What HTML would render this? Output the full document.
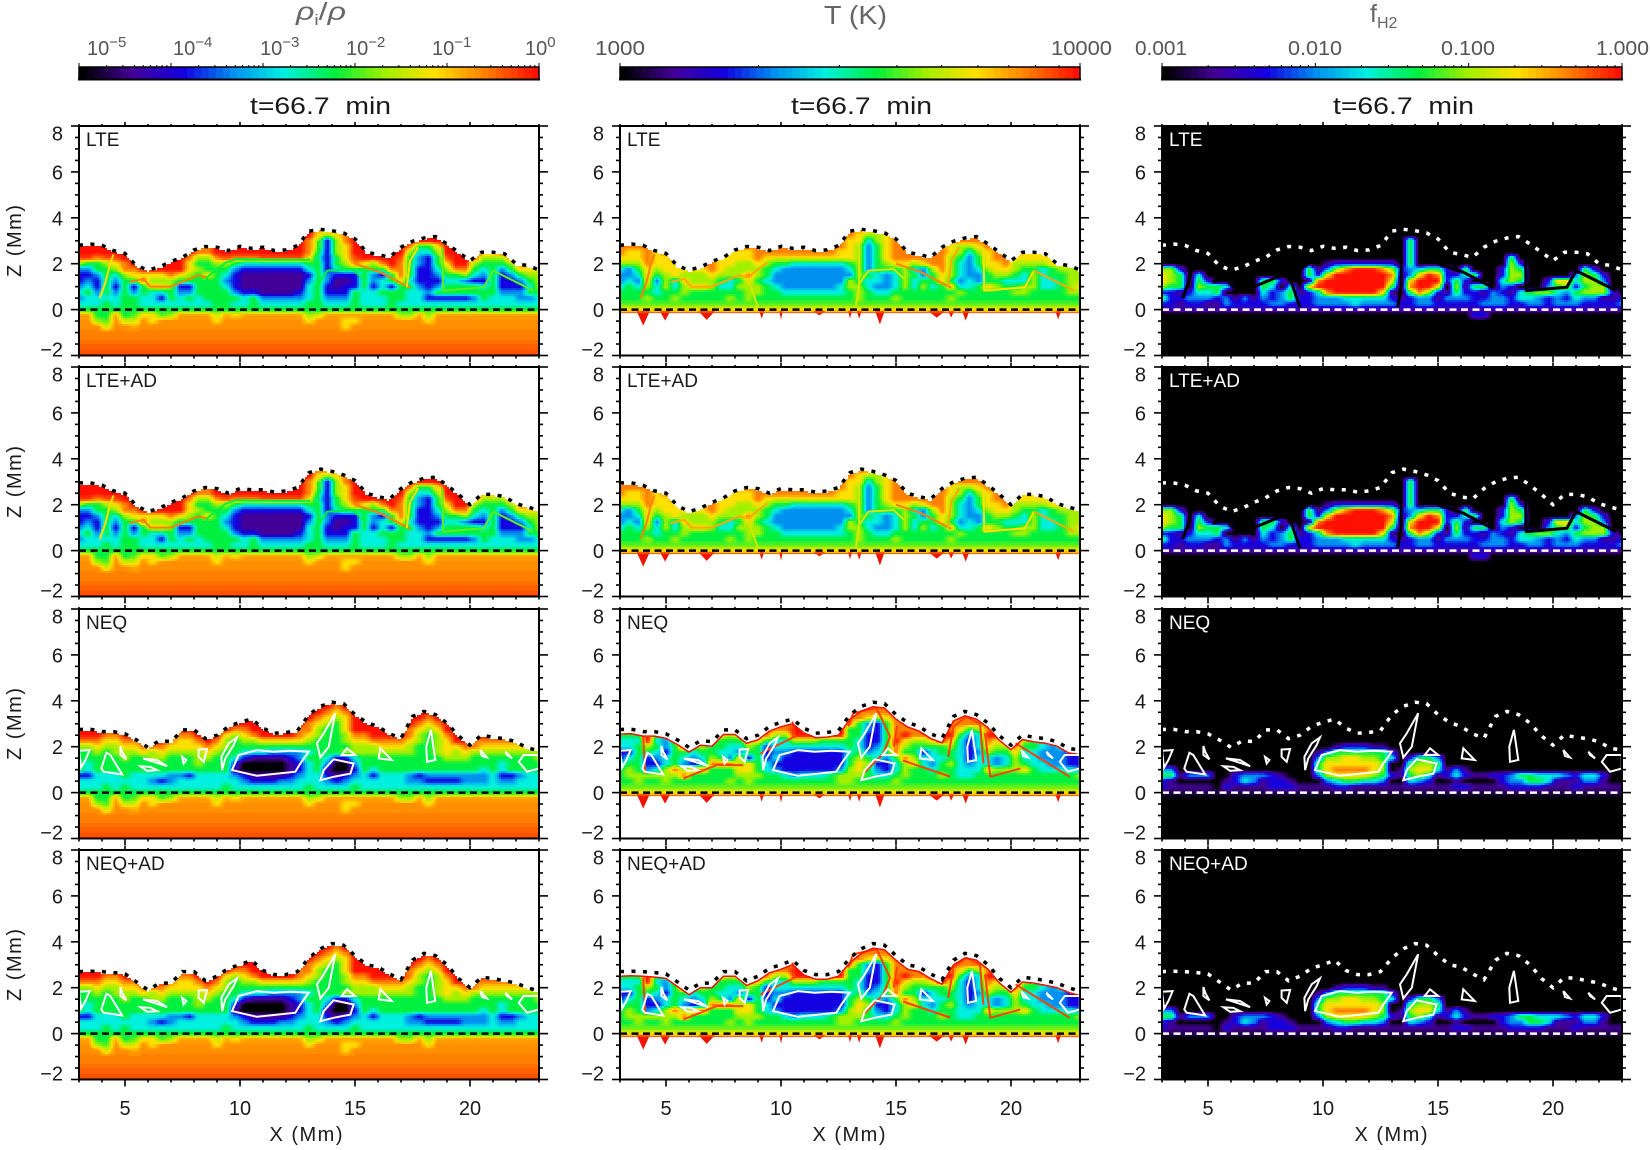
<!DOCTYPE html>
<html lang="en">
<head>
<meta charset="utf-8">
<title>Ionization, temperature and H2 fraction panels</title>
<style>
html,body{margin:0;padding:0;background:#fff}
svg{display:block}
text{font-family:"Liberation Sans",sans-serif;fill:#1a1a1a}
.thin{fill:#555}
.title{fill:#666}
</style>
</head>
<body>
<svg id="figure" xmlns="http://www.w3.org/2000/svg" width="1650" height="1150" viewBox="0 0 1650 1150">
<g id="plots"></g>
<g id="bars"></g>
<g>
<text class="title" x="296" y="20" font-size="25" font-style="italic" textLength="50" lengthAdjust="spacingAndGlyphs">ρ<tspan font-size="15" dy="5" font-style="normal">i</tspan><tspan dy="-5" font-style="normal">/</tspan>ρ</text>
<text class="title" x="824" y="24" font-size="26" textLength="63" lengthAdjust="spacingAndGlyphs">T (K)</text>
<text class="title" x="1370" y="22" font-size="25">f<tspan font-size="16" dy="6">H2</tspan></text>
</g>
<g>
<text class="thin" x="87" y="55" font-size="20">10<tspan font-size="15" dy="-8">−5</tspan></text>
<text class="thin" x="173" y="55" font-size="20">10<tspan font-size="15" dy="-8">−4</tspan></text>
<text class="thin" x="260" y="55" font-size="20">10<tspan font-size="15" dy="-8">−3</tspan></text>
<text class="thin" x="346" y="55" font-size="20">10<tspan font-size="15" dy="-8">−2</tspan></text>
<text class="thin" x="432" y="55" font-size="20">10<tspan font-size="15" dy="-8">−1</tspan></text>
<text class="thin" x="525" y="55" font-size="20">10<tspan font-size="15" dy="-8">0</tspan></text>
<text class="thin" x="595" y="55" font-size="20" textLength="50" lengthAdjust="spacingAndGlyphs">1000</text>
<text class="thin" x="1051" y="55" font-size="20" textLength="61" lengthAdjust="spacingAndGlyphs">10000</text>
<text class="thin" x="1135" y="55" font-size="20" textLength="52" lengthAdjust="spacingAndGlyphs">0.001</text>
<text class="thin" x="1288" y="55" font-size="20" textLength="54" lengthAdjust="spacingAndGlyphs">0.010</text>
<text class="thin" x="1441" y="55" font-size="20" textLength="54" lengthAdjust="spacingAndGlyphs">0.100</text>
<text class="thin" x="1596" y="55" font-size="20" textLength="53" lengthAdjust="spacingAndGlyphs">1.000</text>
</g>
<g>
<text x="250" y="114" font-size="24" textLength="141" lengthAdjust="spacingAndGlyphs">t=66.7&#160;&#160;min</text>
<text x="791" y="114" font-size="24" textLength="141" lengthAdjust="spacingAndGlyphs">t=66.7&#160;&#160;min</text>
<text x="1333" y="114" font-size="24" textLength="141" lengthAdjust="spacingAndGlyphs">t=66.7&#160;&#160;min</text>
</g>
<g>
<text transform="translate(21,241) rotate(-90)" text-anchor="middle" font-size="20" textLength="72">Z (Mm)</text>
<text transform="translate(21,482) rotate(-90)" text-anchor="middle" font-size="20" textLength="72">Z (Mm)</text>
<text transform="translate(21,724) rotate(-90)" text-anchor="middle" font-size="20" textLength="72">Z (Mm)</text>
<text transform="translate(21,965) rotate(-90)" text-anchor="middle" font-size="20" textLength="72">Z (Mm)</text>
<text x="306" y="1141" text-anchor="middle" font-size="20" textLength="73">X (Mm)</text>
<text x="849" y="1141" text-anchor="middle" font-size="20" textLength="73">X (Mm)</text>
<text x="1391" y="1141" text-anchor="middle" font-size="20" textLength="73">X (Mm)</text>
</g>
</svg>
<script>
// ---- axis data ----
const xTicksMajor = [5, 10, 15, 20];
const xTicksMinor = [3,4,6,7,8,9,11,12,13,14,16,17,18,19,21,22,23];
const zTicksMajor = [-2, 0, 2, 4, 6, 8];
const zTicksMinor = [-1.5,-1,-0.5,0.5,1,1.5,2.5,3,3.5,4.5,5,5.5,6.5,7,7.5];
const zTickLabels = ["−2", "0", "2", "4", "6", "8"];
const xTickLabels = ["5", "10", "15", "20"];
const modelNames = ["LTE", "LTE+AD", "NEQ", "NEQ+AD"];

// ---- atmosphere top height (Mm), one value per 0.5 Mm from X=3 to X=23 ----
const surfaceLte = [2.8,2.86,2.8,2.57,2.45,1.9,1.73,1.85,2.1,2.28,2.6,2.75,2.72,2.57,2.76,2.67,2.72,2.57,2.6,2.79,3.42,3.5,3.44,3.34,3.08,2.5,2.4,2.28,2.72,2.98,3.12,3.18,2.86,2.5,2.13,2.5,2.5,2.43,2.0,1.92,1.73];
const surfaceLteAd = [2.95,2.95,2.85,2.6,2.5,1.95,1.7,1.85,2.1,2.3,2.6,2.75,2.7,2.5,2.7,2.65,2.65,2.55,2.6,2.75,3.4,3.55,3.45,3.3,3.05,2.5,2.35,2.25,2.7,3.0,3.15,3.2,2.85,2.45,2.0,2.45,2.45,2.35,2.05,1.9,1.75];
const surfaceNeq = [2.75,2.76,2.66,2.66,2.56,2.29,1.97,2.26,2.22,2.73,2.73,2.35,2.5,2.88,3.07,3.2,2.8,2.59,2.62,2.7,3.4,3.76,3.94,3.88,3.4,3.06,2.88,2.56,2.37,3.32,3.54,3.4,3.03,2.47,2.07,2.51,2.41,2.35,2.22,1.93,1.85];
const surfaceNeqAd = [2.7,2.72,2.7,2.66,2.6,2.25,1.9,2.2,2.2,2.7,2.7,2.3,2.5,2.85,3.0,3.2,2.75,2.57,2.57,2.7,3.3,3.7,3.92,3.85,3.4,3.0,2.9,2.6,2.35,3.2,3.5,3.4,3.0,2.4,2.0,2.45,2.4,2.3,2.2,2.0,1.85];

// ---- heatmap colour levels (0 black .. 9 red).
// Columns run X = 3, 3.4, 3.8 ...; rows run down the z levels below.
// A row shorter than the grid keeps its last value to the right edge.
const zLevels = [3.75,3.5,3.25,3,2.75,2.5,2.25,2,1.75,1.5,1.25,1,0.75,0.5,0.25,0,-0.25,-0.5,-0.75,-1,-1.25,-1.5,-1.75,-2];

const rhoLowerRows = [
[7.6,7.6,5,5,7.6,5,5.5,7,7,5.5,6,7.6,7.6,7.6,7.6,6.5,7.6,7,7.6,7.6,7.6,7.6,7.6,7.6,7.6,6,6.5,7.6,7.6,7.6,7.6,7.6,7.6,7.6,7.6,6,6,7.6,6,7.6,7.6],
[7.8,7.8,6,5.5,7.8,6.5,6.5,7.8,7,7.8,7.8,7.8,7.8,7.8,7.8,7,7.8,7.8,7.8,7.8,7.8,7.8,7.8,7.8,7.8,7,7.8,7.8,7.8,7,7,7.8,7.8,7.8,7.8,7.8,7.8,7.8,7,7.8],
[7.9,7.9,7.9,6.5,7.9,7.9,7.5,7.9,7.9,7.9,7.9,7.9,7.9,7.9,7.9,7.9,7.9,7.9,7.9,7.9,7.9,7.9,7.9,7.9,7.9,7.9,7.9,7.9,7.9,7,7.9],
[7.95],[8.05],[8.2],[8.35],[8.55]
];

const rhoLte = [
[9],
[9,9,9,9,9,9,9,9,9,9,9,9,9,9,9,9,9,9,9,9,9,9,9,9,9,9,8,8,8,9],
[9,9,9,9,9,9,9,9,9,9,9,9,9,9,9,9,9,9,9,9,9,9,9,9,9,9,7,6,7,8,9],
[9,9,9,9,9,9,9,9,9,9,9,9,9,9,9,9,9,9,9,9,9,9,9,9,9,8,6,2,6,8,9],
[9,9,9,9,9,9,9,9,9,9,9,9,9,8,8,9,9,9,9,9,9,9,9,9,9,8,6,2,6,7,9,9,9,9,9,9,8,5,5,7,9],
[9,9,9,9,9,9,9,9,9,9,9,9,9,8,8,9,9,9,9,9,9,9,9,9,9,8,5,2,6,7,9,9,9,9,9,9,6,4,4,6,9,9,9,9,8,8,9],
[8.7,8.7,8,8.5,8.5,9,9,9,9,9,9,9,8,6,6,8,8.5,8,8,8,8.5,8.5,8.5,8.5,8.5,7,4,2,5,7,8.5,9,9,9,9,8.5,5,3,2,5,8.5,9,9,8.5,6,6,6,8.5,9],
[6,5,5,6,7,8,9,9,9,9,9,9,7,5,5,6,6,5,4,4,4,4,4,4,4,5,5,2,5,6,8,7,6,8,9,8,5,3,2,5,7,9,9,6,5,5,5,6,8,8,9],
[3,3,5,5,6,8,8,9,9,9,9,9,7,6,5,5,5,3,2,2,2,2,2,2,2,4,5,2,4,5,5,5,5,5,8,8,5,2,2,4,6,8,8,5,4,5,3,5,7,7,7],
[2,2,3,5,4,6,7,7,7,7,8,7,6,5,7,5,4,2,1,1,1,1,1,1,1,2,5,3,2,2,2,5,3,2,5,8,5,2,2,3,5,5,6,4,3,5,2,3,5,6,6],
[2,3,2,5,3,5,5,8,6,6,6,5,5,5,5,5,3,2,1,1,1,1,1,1,1,3,5,3,1,1,2,5,3,4,5,7,4,2,2,2,4,4,3,2,2,5,2,2,3,5,6],
[3,4,2,5,2,5,2,5,7,7,6,2,2,5,5,5,4,2,1,1,1,1,1,1,1,4,5,2,1,2,2,5,2,4,2,5,5,3,2,3,5,5,5,5,4,5,2,2,2,4,6],
[4,5,3,5,3,5,3,5,4,4,5,3,3,5,5,5,5,3,2,2,1,1,1,1,2,4,5,2,2,2,5,4,4,5,5,5,4,4,3,5,5,5,5,5,5,5,3,3,3,5,5],
[3,4,4,4,4,5,5,4,4,2,5,4,5,4,5,5,5,5,4,5,3,3,3,3,3,4,5,3,3,3,5,4,4,4,5,5,4,4,2,2,2,2,2,3,5,4,4,4,3,3,4],
[4,4,4,5,4,5,5,4,4,4,4,4,4,4,4,5,5,4,4,5,4,4,4,4,4,5,5,4,4,4,5,4,4,4,5,4,4,4,4,4],
[5],
...rhoLowerRows
];

const rhoNeq = [
[9,9,9,9,9,9,9,9,9,9,9,9,9,9,9,9,9,9,9,9,9,9,9,9,9,9,9,9,8,9],
[9,9,9,9,9,9,9,9,9,9,9,9,9,9,9,9,9,9,9,9,9,9,9,9,9,9,9,8,7,8,9],
[9,9,9,9,9,9,9,9,9,9,9,9,9,9,9,9,9,9,9,9,9,9,9,9,9,9,8,7,6,7,9,9,9,9,9,9,9,9,8,9],
[9,9,9,9,9,9,9,9,9,9,9,9,9,9,9,9,9,9,9,9,9,9,9,9,9,8,7,6,5,7,9,9,9,9,9,9,9,8,7,8,9],
[9,9,9,9,9,9,9,9,9,9,9,9,9,9,9,9,9,8,8,9,9,9,9,9,8,8,6,5,5,7,9,9,9,9,9,9,8,7,6,7,9],
[9,9,9,8,8,9,9,9,9,9,9,8,8,9,9,9,7,6,7,8,9,9,9,9,8,7,6,5,5,6,8,8,9,9,9,9,8,6,5,6,8,9],
[8,8,8,7,7,8,8,9,9,9,8,7,7,8,9,8,6,5,6,6,7,7,7,7,7,6,5,5,5,6,7,7,8,8,8,8,7,6,5,6,7,9,9,8,8,8,8,8,8,8,9],
[6,6,7,6,6,7,7,8,8,8,7,7,7,7,8,7,6,5,5,5,5,5,5,5,5,5,5,5,5,5,6,6,6,7,7,7,6,5,5,6,7,7,8,8,7,7,7,7,7,7,7],
[5,5,6,5,6,6,6,7,6,7,6,6,6,6,7,6,5,5,4,4,4,3,3,3,3,4,5,5,5,6,6,6,6,6,6,6,6,5,5,6,7,6,7,6,6,6,6,6,6,6,6],
[5,5,5,5,5,6,5,5,6,6,5,5,5,6,6,5,5,4,2,1,1,1,1,2,3,5,5,4,2,2,4,5,5,5,5,5,5,5,5,5,6,6,6,5,5,5,5,5,5,5,6],
[5,4,5,5,5,5,5,5,5,5,5,5,5,6,5,5,5,2,0,0,0,0,0,1,2,4,5,3,0,0,3,5,5,5,5,5,5,5,5,5,5,5,5,5,5,5,4,5,5,5,5],
[5,4,5,5,5,5,5,5,5,5,5,5,5,5,5,5,5,1,0,0,0,0,0,1,2,4,5,1,0,0,2,5,4,5,5,5,5,5,5,5,5,5,5,5,4,5,4,5,5,5,5],
[2,2,4,4,4,5,4,4,4,4,3,3,2,4,4,4,4,3,2,1,1,1,1,2,3,4,4,2,1,2,3,4,2,4,4,4,3,2,3,3,3,3,3,3,3,4,2,2,3,4,4],
[4,4,4,4,4,4,4,4,3,2,3,4,4,4,4,4,4,4,3,2,2,2,3,3,4,4,4,3,2,3,4,4,4,4,4,4,3,3,2,2,2,2,3,3,3,4,3,3,4,4,4],
[4,4,4,5,4,5,4,4,4,4,4,4,4,4,4,4,5,4,4,4,4,4,4,4,4,5,4,4,4,4,5,4,4,4,4,4,4,4,4,4],
[5],
...rhoLowerRows
];

const tempLte = [
[8],
[8],
[8,8,8,8,8,8,8,8,8,8,8,8,8,8,8,8,8,8,8,8,8,8,8,8,8,8,7,6,6,7,8],
[8,8,8,8,8,8,8,8,8,8,8,8,8,8,8,8,8,8,8,8,8,8,8,8,8,7,7,4,6,7,8],
[8,8,8,8,8,8,8,8,8,8,8,8,8,8,8,8,8,8,8,8,8,8,8,8,8,7,6,3,5,7,8,8,8,8,8,8,7,6,6,7,8],
[8,7,7,8,7,8,8,8,8,8,8,8,7,7,7,8,8,8,8,8,8,8,8,8,7,7,6,3,5,7,8,8,8,8,8,8,7,6,4,6,7,8,8,8,7,7,7,8],
[7,7,7,8,7,7,8,8,8,8,8,7,7,7,7,8,7,7,7,7,7,7,7,7,7,7,6,3,5,7,8,8,8,8,8,8,6,5,3,5,7,8,8,7,7,7,7,7,8],
[6,6,6,8,7,7,7,8,8,8,8,7,7,6,6,7,6,5,5,4,4,4,4,4,4,5,6,3,5,6,7,7,6,7,8,8,6,4,3,5,7,7,8,6,6,6,6,7,7,7,7],
[4,3,5,7,6,7,7,7,7,7,8,7,6,6,6,6,5,4,3,3,3,3,3,3,3,4,6,3,5,5,5,6,4,3,6,8,6,4,3,4,6,7,7,6,5,5,4,5,6,6,6],
[3,3,4,7,5,6,7,6,6,6,7,6,6,6,8,6,5,3,3,3,3,3,3,3,3,3,6,5,4,3,4,6,5,3,5,7,6,4,3,3,5,6,6,5,4,6,4,5,5,6,6],
[3,4,3,7,3,6,4,7,6,6,6,5,4,5,7,5,4,3,3,3,3,3,3,3,3,6,5,4,4,3,4,6,4,5,5,7,5,3,4,3,5,5,4,4,4,6,4,4,5,6,6],
[4,5,4,6,4,6,4,6,7,7,6,4,4,6,6,6,5,4,3,3,3,3,3,3,4,6,6,4,3,3,4,6,4,6,4,5,7,4,4,5,7,6,5,5,6,6,4,4,5,6,7],
[5,5,5,5,4,5,5,6,5,5,5,5,5,5,6,6,5,5,4,4,4,4,4,4,4,5,6,5,4,4,5,5,5,5,5,5,5,6,5,5,5,5,5,6,6,5,5,5,5,6,6],
[5,5,5,6,5,5,6,5,5,5,5,5,6,5,6,5,5,5,5,5,5,5,5,5,5,5,6,5,5,5,6,5,5,5,5,5,6,5,5,5,5],
[5.5],
[6.8],
[9]
];

const tempNeq = [
[8],
[8],
[8,8,8,8,8,8,8,8,8,8,8,8,8,8,8,8,8,8,8,8,8,8,8,8,8,8,8,7,6,7,8],
[8,8,8,8,8,8,8,8,8,8,8,8,8,8,8,8,8,8,8,8,8,8,8,8,8,8,5,3,2,5,8],
[8,8,8,8,8,8,8,8,8,8,8,8,8,8,8,8,8,8,8,9,9,9,9,9,9,5,5,3,2,5,8,8,8,8,8,8,8,7,5,6,8],
[5,5,5,9,5,5,6,8,8,8,8,7,6,7,8,8,8,6,6,9,9,9,9,9,9,5,5,2,2,5,8,9,8,8,9,9,9,5,3,4,9],
[4,4,4,9,4,3,6,9,7,9,6,5,5,5,7,7,5,4,4,6,6,6,5,5,5,5,4,2,2,5,9,7,6,6,7,9,7,4,2,4,8,7,8,9,6,5,4,4,5,8,9],
[4,4,5,6,5,3,5,9,6,6,5,5,4,4,6,5,2,4,4,4,4,4,4,4,4,5,4,2,3,5,8,6,5,5,5,5,6,4,2,4,7,6,6,8,5,5,4,3,4,4,5],
[2,2,5,5,4,2,5,5,4,5,5,4,4,3,5,5,2,3,3,2,2,2,2,2,2,4,5,3,4,5,8,5,5,2,4,5,5,4,2,3,6,5,5,7,4,4,3,3,3,2,2],
[2,4,5,2,3,4,5,4,3,4,6,5,3,7,2,5,2,4,2,2,2,2,2,2,2,5,6,5,4,3,5,8,6,4,4,4,5,4,2,4,4,3,4,6,4,4,3,3,3,2,2],
[4,5,5,2,2,4,5,3,2,3,8,8,8,6,7,5,4,2,2,2,2,2,2,2,2,5,7,6,2,2,4,6,7,4,3,5,6,4,3,4,4,3,4,6,5,4,4,3,3,2,2],
[5,6,5,3,4,6,8,6,8,8,5,5,5,7,7,5,4,3,2,2,2,2,2,2,3,6,7,5,3,2,4,6,5,5,4,5,5,4,4,4,7,6,6,6,7,5,4,4,4,4,3],
[5,6,6,6,6,6,6,8,5,5,5,5,5,6,6,6,5,5,4,3,4,4,4,5,6,6,6,5,4,4,5,6,5,5,5,6,5,4,4,5,5,5,5,5,5,5,5,5,5,5,6],
[5,5,6,5,5,6,5,5,5,5,5,5,6,5,6,5,5,5,5,5,5,5,5,5,6,6,5,5,5,5,6,5,5,5,5,5,5,5,5,5],
[5.6],
[6.8],
[9]
];

const h2Lte = [
[0],
[0],
[0],
[0,0,0,0,0,0,0,0,0,0,0,0,0,0,0,0,0,0,0,0,0,0,0,0,0,0,0,5,0],
[0,0,0,0,0,0,0,0,0,0,0,0,0,0,0,0,0,0,0,0,0,0,0,0,0,0,0,5,0],
[0,0,0,0,0,0,0,0,0,0,0,0,0,0,0,0,0,0,0,0,0,0,0,0,0,0,0,5,0],
[0,0,0,0,0,0,0,0,0,0,0,0,0,0,0,0,0,0,0,0,0,0,0,0,0,0,0,5,0,0,0,0,0,0,0,0,0,0,5,0],
[0,0,0,0,0,0,0,0,0,0,0,0,0,0,0,0,0,0,1,2,2,2,2,2,2,2,0,5,0,0,0,0,0,0,0,0,0,0,6,2,0],
[6,6,2,0,0,0,0,0,0,0,0,0,0,0,0,0,5,1,3,6,8,9,9,9,8,6,2,3,4,5,5,2,0,5,0,0,0,2,6,5,0,0,0,0,0,0,5,2,0],
[7,6,5,0,4,0,0,0,0,0,0,0,0,0,0,0,5,2,7,9,9,9,9,9,9,8,1,3,7,9,8,2,2,4,5,0,0,2,6,6,0,0,0,0,0,3,6,5,2,0],
[7,6,5,0,5,2,0,0,0,0,0,5,5,2,0,0,1,8,9,9,9,9,9,9,9,7,0,7,9,9,9,2,5,2,0,0,0,4,6,5,0,0,2,7,7,4,6,6,3,0],
[6,5,5,0,6,5,5,4,0,0,0,5,4,0,4,0,7,9,9,9,9,9,9,9,9,5,0,8,9,9,7,0,6,1,5,5,0,3,2,0,0,0,3,5,6,2,5,6,6,0],
[2,2,1,2,4,4,5,0,0,0,0,4,2,3,5,1,2,4,8,9,9,9,9,9,7,1,0,5,8,6,2,1,5,2,2,1,3,2,1,4,5,6,6,4,3,5,6,6,6,2,0],
[5,2,2,3,3,3,2,3,1,3,1,3,2,3,5,2,2,3,3,3,4,4,4,4,4,2,1,2,3,3,1,3,3,3,2,2,3,3,2,4,4,3,2,3,2,4,3,3,1,1,2],
[2,2,1,2,2,1,1,3,2,2,2,2,3,3,2,2,2,3,3,3,3,4,3,3,3,3,2,2,3,3,2,2,2,2,2,3,3,3,2,2,3,3,2,3,3,3,2,2,2,2,3],
[1.2],
[0,0,0,0,0,0,0,0,0,0,0,0,0,0,0,0,0,0,0,0,0,0,0,0,0,0,0,0,0,0,0,0,0,0,2,2,0],
[0]
];

const h2Neq = [
[0],
[0],
[0],
[0],
[0],
[0],
[0],
[0,0,0,0,0,0,0,0,0,0,0,0,0,0,0,0,0,0,0,1,2,2,2,1,1,0],
[0,0,0,0,0,0,0,0,0,0,0,0,0,0,0,0,0,1,3,5,5,5,5,5,5,2,0],
[0,0,0,0,0,0,0,0,0,0,0,0,0,0,0,0,0,3,6,6,7,7,6,6,5,4,0,2,5,5,3,0],
[0,0,0,0,0,0,0,0,0,0,0,0,0,0,0,0,0,5,7,7,7,7,7,7,6,0,0,5,6,6,5,0],
[3,3,0,0,0,0,0,0,0,0,0,0,0,0,0,0,0,5,7,8,8,8,8,7,6,0,1,6,7,7,4,1,3,1,0],
[5,5,1,3,3,3,0,0,2,3,3,3,2,1,0,0,0,3,6,7,7,7,7,6,5,2,1,5,6,4,1,2,4,2,1,1,2,2,3,5,5,4,4,4,3,2,4,4,2,0],
[2,1,0,0,0,0,0,1,2,4,3,1,2,2,1,0,0,0,3,4,5,5,4,4,3,0,0,4,3,2,0,0,1,0,0,0,0,2,3,3,5,5,4,1,1,1,3,3,1,0],
[2,1,1,1,1,1,0,2,1,1,1,1,2,2,2,1,1,1,1,2,2,1,1,1,1,1,1,1,1,1,1,1,2,2,1,1,1,1,2,2,2,2,1,1,1,2,1,1,1,1,1],
[0.5],
[0]
];

// ---- thin bright filaments in the LTE models (Mm) and their colour level per column (-1 = not drawn) ----
const lteFilamentX = [
[4.5,4.35,4.15,3.9],
[5.2,5.8,6.1,7,8.2,8.55],
[8.55,9.0],
[8.55,9.4],
[9.4,9.85,11.45,13.05],
[15,16.1,17.4],
[17.25,17.4,17.75],
[18.8,18.84,20.6,21.0],
[21,22.75],
[13.4,13.8,14.9,15.35],
[13.4,13.4,13.25]
];
const lteFilamentZ = [
[2.4,2.0,1.2,0.5],
[1.2,1.34,1.0,1.0,1.5,1.4],
[1.4,0.1],
[1.4,2.06],
[2.06,2.2,2.17,2.17],
[2.0,1.63,0.95],
[0.97,2.14,2.72],
[2.7,0.83,0.97,1.7],
[1.7,0.83],
[1.12,1.7,1.77,1.34],
[3,1.1,0.1]
];
const lteFilamentRho = [7,8,5,5,5,8,7,5.5,5.5,5,5];
const lteFilamentTemp = [8,7.5,6.5,7.5,6,8,7.5,7,7.5,6.5,6.5];
const lteFilamentH2 = [0,0,0,0,-1,0,0,0,0,-1,0];

// ---- red shock fronts in the NEQ temperature panels (Mm) ----
const neqFrontX = [
[5.75,7.2,8.36],
[4.01,4.09],
[10.5,10.6,9.1],
[14.9,15.05],
[15.3,17.35],
[17.27,17.5,18.07,18.65,18.8],
[18.87,19.1,20.4],
[20.2,22.55],
[12.93,13.14,14.16,14.74,14.45,13.58]
];
const neqFrontZ = [
[0.61,1.2,1.2],
[2.44,0.83],
[3.1,2.44,1.7],
[2,2.9],
[1.4,0.7],
[1.56,2.88,3.3,3.0,1.27],
[2.58,0.69,1.05],
[2.15,0.69],
[2.88,3.46,3.68,2.44,1.7,0.83]
];

// ---- red downflow spikes below the temperature surface (Mm) ----
const tempSpikeX = [4.01,4.96,6.77,9.16,10.0,11.67,13.0,13.4,14.3,16.77,17.4,18.03,22.05];
const tempSpikeDepth = [0.7,0.48,0.45,0.4,0.45,0.25,0.38,0.4,0.65,0.35,0.35,0.48,0.42];
const tempSpikeHalfWidth = [0.28,0.22,0.35,0.1,0.07,0.25,0.08,0.1,0.2,0.35,0.12,0.15,0.12];

// ---- white contour of the NEQ cold pockets (Mm) ----
const neqContourX = [
[3.0,3.46,3.28,3.09],
[4.19,4.36,4.88,4.07,3.97],
[4.8,4.88,5.06,4.8],
[5.78,6.39,6.83,6.25],
[5.67,6.1,6.39,5.96],
[7.48,7.67,7.55],
[8.2,8.57,8.42,8.2],
[9.87,9.51,9.19,9.22,9.36,9.72],
[9.65,9.94,10.74,11.46,12.19,12.99,12.62,12.41,10.74],
[14.14,13.64,13.35,13.49,13.86],
[13.49,13.64,14.07,14.94,14.8,14.07],
[14.65,15.01,14.42],
[16.1,16.6,16.03],
[18.3,18.49,18.13,18.1],
[20.45,20.74,20.52],
[21.54,21.83,21.61],
[22.99,22.33,22.12,22.48,22.99]
];
const neqContourZ = [
[1.82,1.85,1.42,1.09],
[1.74,1.64,0.79,0.91,1.05],
[2.03,1.78,1.45,1.64],
[1.49,1.42,1.15,1.34],
[1.15,1.12,0.98,0.95],
[1.56,1.42,1.27],
[1.88,1.9,1.34,1.56],
[2.41,2.15,1.56,0.98,1.49,2.07],
[0.98,1.64,1.85,1.78,1.82,1.78,1.27,0.91,0.73],
[3.46,2.58,2.15,1.53,2.0],
[0.54,0.98,1.45,1.27,0.83,0.69],
[1.93,1.64,1.64],
[1.93,1.42,1.49],
[2.73,1.42,1.34,2.0],
[1.85,1.53,1.59],
[1.78,1.49,1.64],
[1.64,1.64,1.34,0.91,1.05]
];

// ---- colorbar ticks, as fractions of a decade ----
const logMinor = [2,3,4,5,6,7,8,9];
const barDecades = [5, 1, 3];

// ---- colour table ----
const colorR = [0,66,20,0,0,0,160,255,255,255];
const colorG = [0,0,0,144,240,240,240,224,128,16];
const colorB = [0,152,224,240,224,64,0,0,0,0];

const NS = 'http://www.w3.org/2000/svg';
const PANEL_W = 460, PANEL_H = 229.5, TABLE = 64;
const columnLefts = [79, 620, 1162];
const panelTops = [126, 367, 609, 850];
function xs(left, X){ return left + (X - 3) * (PANEL_W / 20); }
function zs(top, z){ return top + (8 - z) * (PANEL_H / 10); }

function node(parent, tag, attrs){
  const el = document.createElementNS(NS, tag);
  for (const k in attrs) el.setAttribute(k, attrs[k]);
  parent.appendChild(el);
  return el;
}
const palette = [];
for (let n = 0; n < TABLE; n++){
  const v = n / (TABLE - 1) * 9;
  const a = Math.min(Math.floor(v), 8), f = v - a;
  const r = Math.round(colorR[a] + (colorR[a + 1] - colorR[a]) * f);
  const g = Math.round(colorG[a] + (colorG[a + 1] - colorG[a]) * f);
  const b = Math.round(colorB[a] + (colorB[a + 1] - colorB[a]) * f);
  palette.push('rgb(' + r + ',' + g + ',' + b + ')');
}
function levelColor(v){
  return palette[Math.round(Math.max(0, Math.min(9, v)) / 9 * (TABLE - 1))];
}
function cell(grid, j, i){
  const row = grid[Math.min(j, grid.length - 1)];
  return row[Math.min(i, row.length - 1)];
}
function ease(t){ return 0.5 * t + 0.5 * t * t * (3 - 2 * t); }
function sample(grid, X, z){
  const fx = Math.max(0, (X - 3) / 0.4);
  const fz = Math.max(0, (zLevels[0] - z) / 0.25);
  const i = Math.floor(fx), j = Math.floor(fz), a = ease(fx - i), b = ease(fz - j);
  return (cell(grid, j, i) * (1 - a) + cell(grid, j, i + 1) * a) * (1 - b) +
         (cell(grid, j + 1, i) * (1 - a) + cell(grid, j + 1, i + 1) * a) * b;
}
function surfaceAt(surface, X){
  const f = Math.max(0, Math.min(surface.length - 1.001, (X - 3) / 0.5));
  const i = Math.floor(f);
  return surface[i] + (surface[i + 1] - surface[i]) * (f - i);
}
function linePath(left, top, surface, offset){
  let d = '';
  surface.forEach(function(v, k){
    const X = 3 + k * 0.5;
    d += (k ? 'L' : 'M') + xs(left, X).toFixed(1) + ' ' + zs(top, v + offset).toFixed(1);
  });
  return d;
}
function pointList(left, top, arrX, arrZ){
  return arrX.map(function(v, m){ return xs(left, v).toFixed(1) + ',' + zs(top, arrZ[m]).toFixed(1); }).join(' ');
}

function drawHeat(group, left, top, grid, surface, opts){
  const STEP = 2;
  const y0 = Math.round(top + 40), y1 = Math.round(top + PANEL_H);
  for (let py = y0; py < y1; py += STEP){
    const z = 8 - (py + 1 - top) / (PANEL_H / 10);
    let runStart = -1, runColor = -1;
    for (let px = 0; px <= PANEL_W; px += STEP){
      let c = -1;
      if (px < PANEL_W){
        const X = 3 + (px + 1) / (PANEL_W / 20);
        const inside = z <= surfaceAt(surface, X) + opts.topOffset && z >= opts.floor;
        if (inside){
          const v = Math.max(0, Math.min(9, sample(grid, X, z)));
          c = Math.round(v / 9 * (TABLE - 1));
          if (opts.hideZero && c === 0) c = -1;
        }
      }
      if (c !== runColor){
        if (runColor >= 0){
          const el = node(group, 'rect', {x: left + runStart, y: py, width: px - runStart, height: STEP, fill: palette[runColor], 'shape-rendering': 'crispEdges'});
          
          
        }
        runStart = px;
        runColor = c;
      }
    }
  }
}

const columns = [
  {key: 'ionization', background: '#fff', line: '#000', grids: [rhoLte, rhoNeq], filamentLevels: lteFilamentRho, topOffset: -0.06, floor: -3},
  {key: 'temperature', background: '#fff', line: '#000', grids: [tempLte, tempNeq], filamentLevels: lteFilamentTemp, topOffset: -0.07, floor: -0.13},
  {key: 'h2-fraction', background: '#000', line: '#fff', grids: [h2Lte, h2Neq], filamentLevels: lteFilamentH2, topOffset: 9, floor: -3}
];
const surfaces = [surfaceLte, surfaceLteAd, surfaceNeq, surfaceNeqAd];
const plots = document.getElementById('plots');

columns.forEach(function(col, c){
  const left = columnLefts[c];
  panelTops.forEach(function(top, r){
    const isNeq = r >= 2;
    const surface = surfaces[r];
    const g = node(plots, 'g', {});
    
    

    const bg = node(g, 'rect', {x: left, y: top, width: PANEL_W, height: PANEL_H, fill: col.background});
    
    

    const heat = node(g, 'g', {});
    
    
    drawHeat(heat, left, top, col.grids[isNeq ? 1 : 0], surface, {
      topOffset: (c === 1 && isNeq) ? -0.2 : col.topOffset,
      floor: col.floor,
      hideZero: c === 2
    });

    if (!isNeq){
      lteFilamentX.forEach(function(fx, k){
        const level = col.filamentLevels[k];
        if (level < 0) return;
        const fl = node(g, 'polyline', {points: pointList(left, top, fx, lteFilamentZ[k]), fill: 'none', stroke: levelColor(level), 'stroke-width': c === 2 ? 3 : 2, 'stroke-linejoin': 'round'});
        
        
      });
    } else if (c === 1){
      neqFrontX.forEach(function(fx, k){
        const fl = node(g, 'polyline', {points: pointList(left, top, fx, neqFrontZ[k]), fill: 'none', stroke: levelColor(8.6), 'stroke-width': 2, 'stroke-linejoin': 'round'});
        
        
      });
    }

    if (c === 1){
      tempSpikeX.forEach(function(sx, k){
        const pts = [
          xs(left, sx - tempSpikeHalfWidth[k]) + ',' + zs(top, -0.08),
          xs(left, sx) + ',' + zs(top, -tempSpikeDepth[k]),
          xs(left, sx + tempSpikeHalfWidth[k]) + ',' + zs(top, -0.08)
        ].join(' ');
        const sp = node(g, 'polygon', {points: pts, fill: '#f01400'});
        
        
      });
      const base = node(g, 'line', {x1: left, x2: left + PANEL_W, y1: zs(top, -0.13), y2: zs(top, -0.13), stroke: '#f05000', 'stroke-width': 1});
      
      
      if (isNeq){
        const rim = node(g, 'path', {d: linePath(left, top, surface, -0.2), fill: 'none', stroke: '#f01000', 'stroke-width': 1.5});
        
        
      }
    }

    if (isNeq){
      neqContourX.forEach(function(cx, k){
        const ct = node(g, 'polygon', {points: pointList(left, top, cx, neqContourZ[k]), fill: 'none', stroke: '#fff', 'stroke-width': 2});
        
        
      });
    }

    const dotted = node(g, 'path', {d: linePath(left, top, surface, 0), fill: 'none', stroke: col.line, 'stroke-width': 3.5, 'stroke-dasharray': '4 7.5'});
    
    

    const zero = node(g, 'line', {x1: left, x2: left + PANEL_W, y1: zs(top, 0), y2: zs(top, 0), stroke: col.line, 'stroke-width': 2.5, 'stroke-dasharray': '7 4.5'});
    
    

    const frame = node(g, 'rect', {x: left, y: top, width: PANEL_W, height: PANEL_H, fill: 'none', stroke: '#000', 'stroke-width': 2});
    
    

    const ticks = node(g, 'g', {stroke: '#000', 'stroke-width': 1.6});
    
    
    zTicksMajor.forEach(function(v){
      const y = zs(top, v);
      const t1 = node(ticks, 'line', {x1: left - 8, x2: left, y1: y, y2: y});
      
      
      const t2 = node(ticks, 'line', {x1: left + PANEL_W, x2: left + PANEL_W + 9, y1: y, y2: y});
      
      
    });
    zTicksMinor.forEach(function(v){
      const y = zs(top, v);
      const t1 = node(ticks, 'line', {x1: left - 4, x2: left, y1: y, y2: y});
      
      
      const t2 = node(ticks, 'line', {x1: left + PANEL_W, x2: left + PANEL_W + 4, y1: y, y2: y});
      
      
    });
    xTicksMajor.forEach(function(v){
      const x = xs(left, v);
      const t1 = node(ticks, 'line', {x1: x, x2: x, y1: top - 4, y2: top});
      
      
      const t2 = node(ticks, 'line', {x1: x, x2: x, y1: top + PANEL_H, y2: top + PANEL_H + 7});
      
      
    });
    xTicksMinor.forEach(function(v){
      const x = xs(left, v);
      const t1 = node(ticks, 'line', {x1: x, x2: x, y1: top - 2, y2: top});
      
      
      const t2 = node(ticks, 'line', {x1: x, x2: x, y1: top + PANEL_H, y2: top + PANEL_H + 3});
      
      
    });

    zTicksMajor.forEach(function(v, k){
      const shift = v === 8 ? 7.5 : (v === -2 ? -6 : 0.5);
      const lab = node(g, 'text', {x: left - 16, y: zs(top, v) + shift + 7, 'text-anchor': 'end', 'font-size': 20});
      lab.textContent = zTickLabels[k];
      
      
    });
    if (r === 3){
      xTicksMajor.forEach(function(v, k){
        const lab = node(g, 'text', {x: xs(left, v), y: 1115, 'text-anchor': 'middle', 'font-size': 20});
        lab.textContent = xTickLabels[k];
        
        
      });
    }
    const label = node(g, 'text', {x: left + 7, y: top + 20, 'font-size': 19, style: 'fill:' + (c === 2 ? '#fff' : '#1a1a1a')});
    label.textContent = modelNames[r];
    
    
  });
});

// ---- colorbars ----
const bars = document.getElementById('bars');
columns.forEach(function(col, c){
  const left = columnLefts[c];
  const g = node(bars, 'g', {});
  
  
  const w = PANEL_W / TABLE;
  palette.forEach(function(color, n){
    const seg = node(g, 'rect', {x: (left + n * w).toFixed(2), y: 67, width: (w + 0.6).toFixed(2), height: 12, fill: color, 'shape-rendering': 'crispEdges'});
    
    
  });
  const fr = node(g, 'rect', {x: left, y: 67, width: PANEL_W, height: 12.5, fill: 'none', stroke: '#000', 'stroke-width': 1.5});
  
  
  const under = node(g, 'line', {x1: left - 1, x2: left + PANEL_W + 1, y1: 79.5, y2: 79.5, stroke: '#000', 'stroke-width': 2});
  
  
  const dec = barDecades[c];
  for (let d = 0; d < dec; d++){
    const x0 = left + d * PANEL_W / dec;
    const mj = node(g, 'line', {x1: x0, x2: x0, y1: 63, y2: 67, stroke: '#000', 'stroke-width': 1});
    
    
    logMinor.forEach(function(m){
      const x = x0 + Math.log10(m) * PANEL_W / dec;
      const mn = node(g, 'line', {x1: x, x2: x, y1: 65, y2: 67, stroke: '#000', 'stroke-width': 1});
      
      
    });
  }
  const end = node(g, 'line', {x1: left + PANEL_W, x2: left + PANEL_W, y1: 63, y2: 67, stroke: '#000', 'stroke-width': 1});
  
  
});
</script>
</body>
</html>
